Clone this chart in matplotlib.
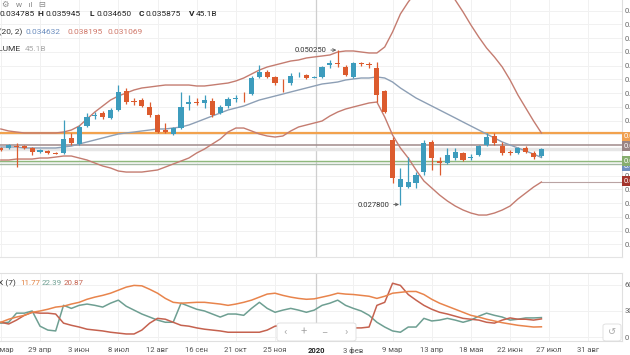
import matplotlib
matplotlib.use("Agg")
import matplotlib.pyplot as plt
import matplotlib.dates as mdates
from matplotlib.patches import FancyBboxPatch
from matplotlib.ticker import FormatStrFormatter
import numpy as np
import pandas as pd

plt.rcParams['font.family'] = ['Roboto', 'DejaVu Sans']

# weekly candles (monday of each week)
weeks = pd.date_range("2019-03-25", periods=70, freq="7D")

opens = [0.03601, 0.03601, 0.03630, 0.03630, 0.03601, 0.03543, 0.03558, 0.03529, 0.03529, 0.03747,
         0.03660, 0.03921, 0.04067, 0.04110, 0.04038, 0.04154, 0.04430, 0.04278, 0.04299, 0.04198,
         0.04081, 0.03863, 0.03805, 0.03892, 0.04241, 0.04270, 0.04256, 0.04285, 0.04110, 0.04212,
         0.04321, 0.04343, 0.04387, 0.04634, 0.04706, 0.04634, 0.04561, 0.04547, 0.04670, 0.04663,
         0.04626, 0.04634, 0.04808, 0.04837, 0.04779, 0.04634, 0.04837, 0.04823, 0.04765, 0.04430,
         0.03718, 0.03034, 0.03034, 0.03093, 0.03252, 0.03689, 0.03412, 0.03383, 0.03456, 0.03529,
         0.03463, 0.03500, 0.03645, 0.03776, 0.03630, 0.03543, 0.03529, 0.03601, 0.03529, 0.034785]
highs = [0.03616, 0.03660, 0.03674, 0.03645, 0.03616, 0.03587, 0.03572, 0.03543, 0.04009, 0.03820,
         0.03936, 0.04110, 0.04125, 0.04139, 0.04183, 0.04517, 0.04474, 0.04328, 0.04328, 0.04270,
         0.04096, 0.03965, 0.03907, 0.04416, 0.04372, 0.04328, 0.04372, 0.04328, 0.04227, 0.04343,
         0.04372, 0.04416, 0.04648, 0.04808, 0.04736, 0.04648, 0.04605, 0.04692, 0.04706, 0.04677,
         0.04648, 0.04794, 0.04881, 0.05025, 0.04808, 0.04852, 0.04852, 0.04852, 0.04852, 0.04445,
         0.03761, 0.03311, 0.03471, 0.03252, 0.03718, 0.03718, 0.03471, 0.03601, 0.03601, 0.03543,
         0.03514, 0.03645, 0.03820, 0.03820, 0.03689, 0.03572, 0.03616, 0.03630, 0.03558, 0.035945]
lows = [0.03558, 0.03587, 0.03325, 0.03587, 0.03500, 0.03529, 0.03514, 0.03514, 0.03514, 0.03645,
        0.03645, 0.03907, 0.04023, 0.04023, 0.04023, 0.04139, 0.04241, 0.04227, 0.04198, 0.04052,
        0.03820, 0.03820, 0.03790, 0.03878, 0.04154, 0.04227, 0.04183, 0.04052, 0.04096, 0.04183,
        0.04270, 0.04270, 0.04372, 0.04619, 0.04619, 0.04517, 0.04416, 0.04517, 0.04634, 0.04605,
        0.04619, 0.04619, 0.04765, 0.04779, 0.04648, 0.04619, 0.04794, 0.04765, 0.04270, 0.04110,
        0.03093, 0.02780, 0.03020, 0.03020, 0.03209, 0.03282, 0.03209, 0.03369, 0.03427, 0.03412,
        0.03427, 0.03485, 0.03630, 0.03645, 0.03500, 0.03500, 0.03514, 0.03529, 0.03441, 0.034650]
closes = [0.03572, 0.03645, 0.03623, 0.03601, 0.03543, 0.03572, 0.03529, 0.03521, 0.03732, 0.03674,
          0.03907, 0.04052, 0.04081, 0.04052, 0.04154, 0.04416, 0.04270, 0.04263, 0.04212, 0.04081,
          0.03834, 0.03834, 0.03892, 0.04198, 0.04270, 0.04256, 0.04299, 0.04081, 0.04198, 0.04314,
          0.04328, 0.04336, 0.04619, 0.04706, 0.04634, 0.04547, 0.04554, 0.04648, 0.04677, 0.04619,
          0.04634, 0.04779, 0.04837, 0.04823, 0.04663, 0.04837, 0.04823, 0.04815, 0.04372, 0.04125,
          0.03165, 0.03151, 0.03107, 0.03209, 0.03674, 0.03456, 0.03383, 0.03500, 0.03543, 0.03427,
          0.03471, 0.03630, 0.03761, 0.03674, 0.03529, 0.03529, 0.03601, 0.03543, 0.03471, 0.035875]

# Bollinger (20, 2) as shown on the chart
bb_upper = [0.03878, 0.03849, 0.03834, 0.03820, 0.03820, 0.03820, 0.03820, 0.03820, 0.03834, 0.03863,
            0.03921, 0.04023, 0.04125, 0.04212, 0.04299, 0.04357, 0.04401, 0.04445, 0.04474, 0.04488,
            0.04503, 0.04517, 0.04517, 0.04517, 0.04517, 0.04503, 0.04503, 0.04517, 0.04532, 0.04546,
            0.04576, 0.04619, 0.04677, 0.04735, 0.04779, 0.04808, 0.04837, 0.04866, 0.04881, 0.04910,
            0.04925, 0.04939, 0.04954, 0.04997, 0.05012, 0.05012, 0.04997, 0.04983, 0.04983, 0.05070,
            0.05288, 0.05550, 0.05724, 0.05870, 0.05957, 0.06001, 0.05986, 0.05899, 0.05753, 0.05579,
            0.05390, 0.05215, 0.05055, 0.04925, 0.04779, 0.04590, 0.04372, 0.04183, 0.03994, 0.038195]
bb_middle = [0.03616, 0.03616, 0.03616, 0.03602, 0.03602, 0.03602, 0.03602, 0.03602, 0.03616, 0.03630,
             0.03660, 0.03689, 0.03718, 0.03747, 0.03776, 0.03805, 0.03820, 0.03834, 0.03849, 0.03863,
             0.03878, 0.03878, 0.03892, 0.03907, 0.03936, 0.03979, 0.04023, 0.04067, 0.04110, 0.04154,
             0.04183, 0.04212, 0.04256, 0.04299, 0.04328, 0.04357, 0.04386, 0.04416, 0.04445, 0.04474,
             0.04503, 0.04532, 0.04546, 0.04561, 0.04590, 0.04605, 0.04619, 0.04619, 0.04634, 0.04619,
             0.04561, 0.04474, 0.04401, 0.04328, 0.04270, 0.04212, 0.04154, 0.04096, 0.04038, 0.03979,
             0.03921, 0.03863, 0.03805, 0.03747, 0.03689, 0.03645, 0.03602, 0.03558, 0.03514, 0.034632]
bb_lower = [0.03427, 0.03427, 0.03441, 0.03441, 0.03441, 0.03456, 0.03456, 0.03470, 0.03485, 0.03485,
            0.03456, 0.03427, 0.03383, 0.03340, 0.03311, 0.03267, 0.03252, 0.03252, 0.03252, 0.03267,
            0.03282, 0.03325, 0.03369, 0.03412, 0.03456, 0.03529, 0.03587, 0.03660, 0.03732, 0.03834,
            0.03892, 0.03892, 0.03849, 0.03805, 0.03776, 0.03761, 0.03776, 0.03849, 0.03907, 0.03936,
            0.03965, 0.03994, 0.04067, 0.04125, 0.04168, 0.04198, 0.04227, 0.04256, 0.04270, 0.04052,
            0.03790, 0.03602, 0.03456, 0.03282, 0.03122, 0.03020, 0.02918, 0.02831, 0.02758, 0.02700,
            0.02656, 0.02627, 0.02627, 0.02656, 0.02700, 0.02758, 0.02860, 0.02947, 0.03034, 0.031069]

# lower pane indicator (7)
adx = [17, 20.5, 23, 25, 28.5, 30, 32, 34.5, 35.5, 38, 40, 43.5, 46, 48, 50.5, 54, 57.5, 59.5, 59, 55,
       50.5, 44.5, 40, 39, 39.5, 40, 40, 39, 38, 36.5, 38, 40, 42.5, 46, 49.5, 50.5, 48, 46, 44.5, 43.5,
       44, 46, 48, 50.5, 49.5, 49, 48, 47, 44.5, 47, 50.5, 51.5, 52.5, 52.5, 49, 43.5, 39, 35.5, 32, 28.5,
       25, 23, 20.5, 18.5, 16.5, 15, 13.5, 12.5, 11.5, 11.77]
di_plus = [16, 17, 27.5, 27.5, 30, 12.5, 8, 7, 36.5, 33, 36.5, 38, 36.5, 34.5, 39, 42.5, 35.5, 31, 26.5, 23,
           19.5, 17, 17, 39, 35.5, 32, 30, 26.5, 23, 26.5, 26.5, 25, 33, 40, 33, 28.5, 31, 33, 31, 28.5,
           31, 36.5, 39, 42.5, 36.5, 33, 30, 25, 17, 11.5, 7, 5.5, 11.5, 11.5, 21.5, 18.5, 19.5, 21.5, 19.5, 17,
           19.5, 24, 27.5, 25, 23, 19.5, 20.5, 22, 22, 22.39]
di_minus = [17, 15, 19.5, 25, 28.5, 27.5, 27.5, 26.5, 16, 13.5, 11.5, 9, 8, 7, 5.5, 4.5, 3.5, 3.5, 8, 16,
            21.5, 20.5, 17, 13.5, 12.5, 10.5, 9, 8, 7, 5.5, 5.5, 5.5, 5.5, 5.5, 8, 12.5, 13.5, 11.5, 11.5, 11.5,
            11.5, 11.5, 11.5, 11.5, 11.5, 10.5, 10.5, 11.5, 36.5, 40, 62, 59.5, 49, 42.5, 36.5, 32, 28.5, 26.5, 24, 21.5,
            20.5, 19.5, 17, 16, 19.5, 22, 20.5, 20.5, 19.5, 20.87]

tick_dates = ["2019-03-25", "2019-04-29", "2019-06-03", "2019-07-08", "2019-08-12", "2019-09-16",
              "2019-10-21", "2019-11-25", "2020-01-01", "2020-02-03", "2020-03-09", "2020-04-13",
              "2020-05-18", "2020-06-22", "2020-07-27", "2020-08-31"]
tick_labels = ["25 мар", "29 апр", "3 июн", "8 июл", "12 авг", "16 сен", "21 окт", "25 ноя", "2020",
               "3 фев", "9 мар", "13 апр", "18 мая", "22 июн", "27 июл", "31 авг"]

UP, DOWN = "#3d9cbd", "#dc5b2e"
W, H = 630, 355

fig = plt.figure(figsize=(W / 100, H / 100), dpi=100)
fig.patch.set_facecolor("white")


def box(x0, y0, x1, y1):
    return [x0 / W, 1 - y1 / H, (x1 - x0) / W, (y1 - y0) / H]


ax = fig.add_axes(box(0, 0, 622, 257))
ax2 = fig.add_axes(box(0, 273, 622, 341), sharex=ax)

xs = mdates.date2num(weeks)
tx = mdates.date2num(pd.to_datetime(tick_dates))
x_left = mdates.date2num(pd.Timestamp("2019-03-24 06:00"))
x_right = mdates.date2num(pd.Timestamp("2020-09-30"))

# price pane
ax.set_xlim(x_left, x_right)
ax.set_ylim(0.02017, 0.05753)
ax.set_yticks(np.arange(0.022, 0.0575, 0.002))
ax.yaxis.tick_right()
ax.yaxis.set_major_formatter(FormatStrFormatter('%.6f'))
ax.tick_params(axis='y', length=0, pad=2, labelsize=5.5, labelcolor="#666666")
ax.set_xticks(tx)
ax.tick_params(axis='x', length=0, labelbottom=False)
ax.grid(color="#f1f1f1", lw=0.7)
ax.set_axisbelow(True)
for s in ["left", "top"]:
    ax.spines[s].set_visible(False)
ax.spines["right"].set_color("#dddddd")
ax.spines["bottom"].set_color("#e4e4e4")
ax.axvline(mdates.date2num(pd.Timestamp("2020-01-01")), color="#cfcfcf", lw=0.9, zorder=1)

# level lines
ax.axhline(0.0382, color="#f2a24e", lw=1.6, zorder=2)
ax.axhline(0.03638, color="#a08a8a", lw=1.1, zorder=2)
ax.axhline(0.0359, color="#e6e6e6", lw=2.5, zorder=1.5)
ax.axhline(0.03419, color="#8fb97c", lw=1.0, zorder=2)
ax.axhline(0.03369, color="#a4b9a4", lw=1.0, zorder=2)
ax.hlines(bb_lower[-1], xs[-1], x_right, color="#b9a3a3", lw=0.8, zorder=2)

# bollinger bands
ax.plot(xs, bb_upper, color="#c47c70", lw=1.0, zorder=3)
ax.plot(xs, bb_lower, color="#c47c70", lw=1.0, zorder=3)
ax.plot(xs, bb_middle, color="#8d9fb5", lw=1.0, zorder=3)

# candles
for x, o, h, l, c in zip(xs, opens, highs, lows, closes):
    col = UP if c >= o else DOWN
    ax.vlines(x, l, h, color=col, lw=0.9, zorder=4)
    ax.bar(x, max(abs(c - o), 0.00009), bottom=min(o, c), width=4.6, color=col, zorder=5)

# extreme annotations
i_hi = int(np.argmax(highs))
i_lo = int(np.argmin(lows))
arrow = dict(arrowstyle='->', color="#555555", lw=0.6, shrinkA=1, shrinkB=1, mutation_scale=5)
ax.annotate(f"{highs[i_hi]:.6f}", xy=(xs[i_hi], highs[i_hi]), xytext=(-11, 0),
            textcoords='offset pixels', ha='right', va='center', fontsize=5.5, color="#333333",
            arrowprops=arrow, zorder=6)
ax.annotate(f"{lows[i_lo]:.6f}", xy=(xs[i_lo], lows[i_lo]), xytext=(-11, 0),
            textcoords='offset pixels', ha='right', va='center', fontsize=5.5, color="#333333",
            arrowprops=arrow, zorder=6)

# right price labels
for txt, yv, col in [("0.038195", 0.0377, "#f0a050"), ("0.036380", 0.03625, "#9a8484"),
                     ("0.033300", 0.0334, "#7090c0"), ("0.034290", 0.0341, "#86ad6e"),
                     ("0.031069", 0.0312, "#a3342c")]:
    ax.annotate(txt, xy=(1, yv), xycoords=ax.get_yaxis_transform(), xytext=(2, 0),
                textcoords='offset pixels', ha='left', va='center', fontsize=5.5, color="white",
                bbox=dict(boxstyle='square,pad=0.25', fc=col, ec='none'), annotation_clip=False)

# indicator pane
ax2.plot(xs, di_plus, color="#6e9f92", lw=1.1)
ax2.plot(xs, di_minus, color="#c5624f", lw=1.1)
ax2.plot(xs, adx, color="#e8844c", lw=1.1)
ax2.set_ylim(-4.6, 73.8)
ax2.set_yticks([0, 30, 60])
ax2.yaxis.tick_right()
ax2.tick_params(axis='y', length=0, pad=2, labelsize=5.5, labelcolor="#666666")
ax2.set_xticks(tx)
ax2.set_xticklabels(tick_labels)
ax2.tick_params(axis='x', length=0, pad=4, labelsize=5.5, labelcolor="#555555")
for lab in ax2.get_xticklabels():
    if lab.get_text() == "2020":
        lab.set_fontweight("bold")
        lab.set_color("#222222")
ax2.grid(color="#f1f1f1", lw=0.7)
ax2.set_axisbelow(True)
ax2.spines["left"].set_visible(False)
for s in ["right", "top", "bottom"]:
    ax2.spines[s].set_color("#e0e0e0")
ax2.axvline(mdates.date2num(pd.Timestamp("2020-01-01")), color="#cfcfcf", lw=0.9, zorder=1)
ax2.set_xlim(x_left, x_right)


def ftext(x, y, s, **kw):
    fig.text(x / W, 1 - y / H, s, va='center', **kw)


# headers
ftext(2, 5, "⚙   w   ıl   ⊟", fontsize=6, color="#8a8a8a")
for x, s, bold in [(-9, "O", True), (-1, "0.034785", False), (38, "H", True), (45, "0.035945", False),
                   (89, "L", True), (96, "0.034650", False), (139, "C", True), (146, "0.035875", False),
                   (189, "V", True), (196, "45.1B", False)]:
    ftext(x, 14, s, fontsize=6, color="#222222", fontweight='bold' if bold else 'normal')
ftext(22, 32, "BB (20, 2)", fontsize=6, color="#333333", ha='right')
ftext(25, 32, f"{bb_middle[-1]:.6f}", fontsize=6, color="#6c8ebf")
ftext(67, 32, f"{bb_upper[-1]:.6f}", fontsize=6, color="#d0786a")
ftext(108, 32, f"{bb_lower[-1]:.6f}", fontsize=6, color="#d0786a")
ftext(21, 49, "VOLUME", fontsize=6, color="#333333", ha='right')
ftext(25, 49, "45.1B", fontsize=6, color="#aaaaaa")

ftext(16, 283, "ADX (7)", fontsize=6, color="#333333", ha='right')
ftext(20, 283, f"{adx[-1]:.2f}", fontsize=5.7, color="#e08040")
ftext(42, 283, f"{di_plus[-1]:.2f}", fontsize=5.7, color="#6e9f92")
ftext(64, 283, f"{di_minus[-1]:.2f}", fontsize=5.7, color="#c5624f")

# navigation overlay
nav = FancyBboxPatch((277 / W, 1 - 341 / H), 79 / W, 18 / H, boxstyle="round,pad=0,rounding_size=0.005",
                     transform=fig.transFigure, fc="white", ec="#dddddd", lw=0.6)
fig.add_artist(nav)
for x, s in [(285, "‹"), (304, "+"), (324, "−"), (346, "›")]:
    ftext(x, 332, s, fontsize=8, color="#aaaaaa", ha='center')
undo = FancyBboxPatch((603 / W, 1 - 341 / H), 18 / W, 17 / H, boxstyle="round,pad=0,rounding_size=0.005",
                      transform=fig.transFigure, fc="white", ec="#dddddd", lw=0.6)
fig.add_artist(undo)
ftext(612, 332, "↺", fontsize=7, color="#aaaaaa", ha='center')

fig.savefig("out.png", dpi=100)
